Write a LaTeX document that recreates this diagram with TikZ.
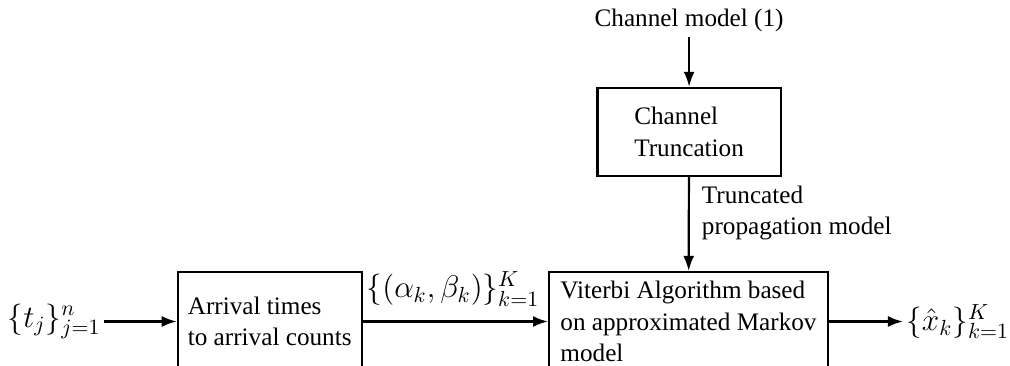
\RequirePackage{fix-cm}
\documentclass[tikz,border=0pt]{standalone}
\usepackage{amsmath}
\usepackage{fontspec}
\setmainfont{Liberation Serif}
\usepackage{tikz}
\usetikzlibrary{arrows.meta, positioning}

\begin{document}
\begin{tikzpicture}[
    font=\fontsize{12.6}{15.8}\selectfont,
    block/.style={draw, line width=1.1pt, align=left, inner sep=0pt},
    lbl/.style={inner sep=2pt},
    mathlbl/.style={inner sep=1.5pt, font=\fontsize{15.6}{18}\selectfont},
    flow/.style={-{Latex[length=7.5pt, width=5.5pt]}, line width=1.1pt}
  ]
  \path[use as bounding box, clip] (0,0) rectangle (17.75,6.43);
  \node[block, minimum width=3.23cm, minimum height=1.74cm] (arrival) at (4.74,0.78) {Arrival times\\to arrival counts};
  \node[block, minimum width=4.90cm, minimum height=1.74cm] (viterbi) at (12.10,0.78) {Viterbi Algorithm based\\on approximated Markov\\model};
  \node[block, minimum width=3.22cm, minimum height=1.55cm] (trunc) at (12.11,4.11) {Channel\\Truncation};
  \node[mathlbl, left=1.28cm of arrival] (tin) {$\{t_j\}_{j=1}^n$};
  \node[mathlbl, right=1.30cm of viterbi] (xout) {$\{\hat{x}_k\}_{k=1}^K$};
  \node[lbl, above=0.88cm of trunc] (chmodel) {Channel model (1)};
  \draw[flow] (tin) -- (arrival);
  \draw[flow] (arrival) -- node[mathlbl, pos=0, anchor=south west, yshift=5.5pt] (alphabeta) {$\{(\alpha_k,\beta_k)\}_{k=1}^K$} (viterbi);
  \draw[flow] (viterbi) -- (xout);
  \draw[flow] (chmodel) -- (trunc);
  \draw[flow] (trunc) -- node[lbl, pos=0.38, anchor=west, xshift=4pt, align=left] (trlabel) {Truncated\\propagation model} (viterbi);
\end{tikzpicture}
\end{document}
